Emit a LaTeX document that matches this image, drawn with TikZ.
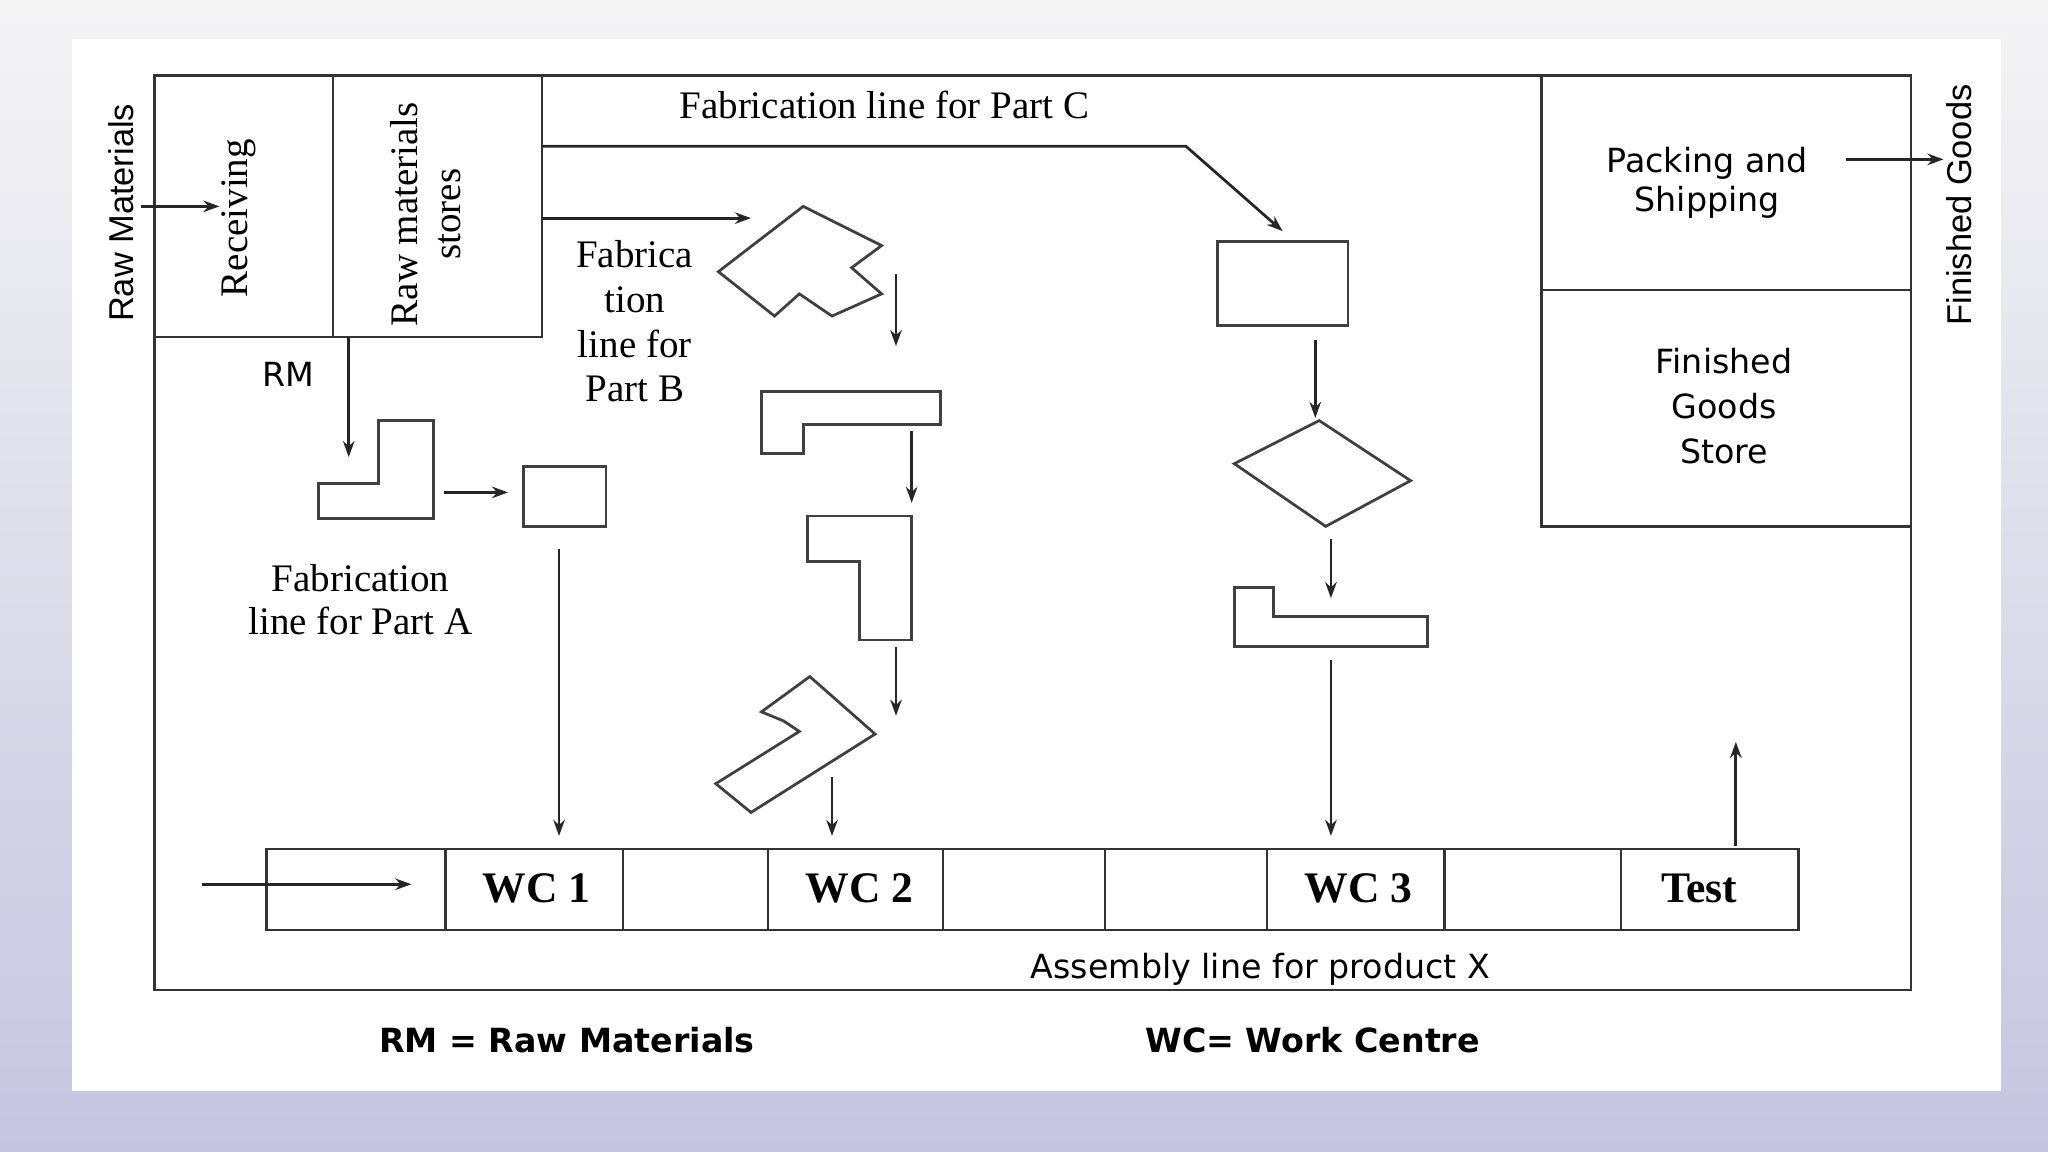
\documentclass[tikz,border=0pt]{standalone}
\usepackage{fontspec}
\usetikzlibrary{arrows.meta}
\setmainfont{Liberation Serif}
\newfontfamily\sansf{DejaVu Sans}
\newfontfamily\arialf{Liberation Sans}
\begin{document}
\begin{tikzpicture}[x=0.02cm,y=-0.02cm,
  box/.style={draw=black!80,line width=1.2pt},
  shp/.style={draw=black!75,line width=1.2pt,fill=white},
  arr/.style={draw=black!85,line width=1.2pt,-{Stealth[length=7pt,width=5pt]}},
  ser/.style={font=\fontsize{17}{19}\selectfont,align=center,inner sep=0pt},
  sans/.style={font=\sansf\fontsize{14.5}{17}\selectfont,align=center,inner sep=0pt},
  vlab/.style={font=\arialf\fontsize{15}{17}\selectfont,rotate=90,inner sep=0pt},
  wc/.style={font=\fontsize{19}{21}\selectfont\bfseries,inner sep=0pt}]
\useasboundingbox (0,0) rectangle (1568,882);
\shade[top color=blue!4!gray!8,bottom color=blue!30!gray!35] (0,0) rectangle (1568,882);
\fill[white] (55,30) rectangle (1532,835);
% frame
\draw[box] (118,58) rectangle (1463,758);
\draw[box] (118,258) -- (415,258) -- (415,58);
\draw[box] (255,58) -- (255,258);
\draw[box] (1180,58) -- (1180,403) -- (1463,403);
\draw[box] (1180,222) -- (1463,222);
% assembly line
\draw[box] (204,650) rectangle (1377,712);
\foreach \x in {341,477,588,722,846,970,1106,1241} \draw[box] (\x,650) -- (\x,712);
\node[wc] (wc1) at (411,680) {WC 1};
\node[wc] (wc2) at (658,680) {WC 2};
\node[wc] (wc3) at (1040,680) {WC 3};
\node[wc] (test) at (1301,680) {Test};
% texts
\node[vlab] (rawm) at (93,163) {Raw Materials};
\node[ser,rotate=90] (recv) at (183,167) {Receiving};
\node[ser,rotate=90] (rms) at (326,164) {Raw materials\\stores};
\node[vlab] (fg) at (1500,157) {Finished Goods};
\node[sans] (pack) at (1307,140) {Packing and\\Shipping};
\node[sans,font=\sansf\fontsize{14.5}{19.5}\selectfont] (fgs) at (1320,311) {Finished\\Goods\\Store};
\node[ser] (fc) at (677,80) {Fabrication line for Part C};
\node[ser,font=\fontsize{17}{19.5}\selectfont] (fb) at (486,246) {Fabrica\\tion\\line for\\Part B};
\node[ser] (fa) at (276,459) {Fabrication\\line for Part A};
\node[sans] (rm) at (221,287) {RM};
\node[sans] (asm) at (965,742) {Assembly line for product X};
\node[sans,font=\sansf\fontsize{14.5}{17}\selectfont\bfseries] (k1) at (434,796) {RM = Raw Materials};
\node[sans,font=\sansf\fontsize{14.5}{17}\selectfont\bfseries] (k2) at (1005,796) {WC= Work Centre};
% part shapes
\draw[shp] (244,370) -- (290,370) -- (290,322) -- (332,322) -- (332,397) -- (244,397) -- cycle;
\draw[shp] (401,357) rectangle (464,403);
\draw[shp] (550,208) -- (615,158) -- (675,188) -- (652,205) -- (675,225) -- (637,242) -- (612,225) -- (593,242) -- cycle;
\draw[shp] (583,300) -- (720,300) -- (720,325) -- (615,325) -- (615,347) -- (583,347) -- cycle;
\draw[shp] (618,395) -- (698,395) -- (698,490) -- (658,490) -- (658,430) -- (618,430) -- cycle;
\draw[shp] (583,545) -- (620,518) -- (670,562) -- (575,622) -- (548,600) -- (612,560) -- (600,552) -- cycle;
\draw[shp] (932,185) rectangle (1032,249);
\draw[shp] (945,355) -- (1010,322) -- (1080,368) -- (1015,403) -- cycle;
\draw[shp] (945,450) -- (975,450) -- (975,472) -- (1093,472) -- (1093,495) -- (945,495) -- cycle;
% arrows
\foreach \a/\b/\c/\d [count=\i] in {108/158/168/158, 267/258/267/350, 340/377/389/377, 428/420/428/640,
  415/167/575/167, 686/210/686/265, 698/330/698/385, 686/495/686/548, 637/595/637/640,
  1007/260/1007/320, 1019/413/1019/458, 1019/505/1019/640, 155/677/315/677, 1329/648/1329/568, 1413/122/1488/122}
 {\coordinate (s\i) at (\a,\b); \coordinate (e\i) at (\c,\d); \draw[arr] (s\i) -- (e\i);}
\coordinate (c1) at (415,112); \coordinate (c2) at (908,112); \coordinate (c3) at (982,177);
\draw[arr] (c1) -- (c2) -- (c3);
\end{tikzpicture}
\end{document}
